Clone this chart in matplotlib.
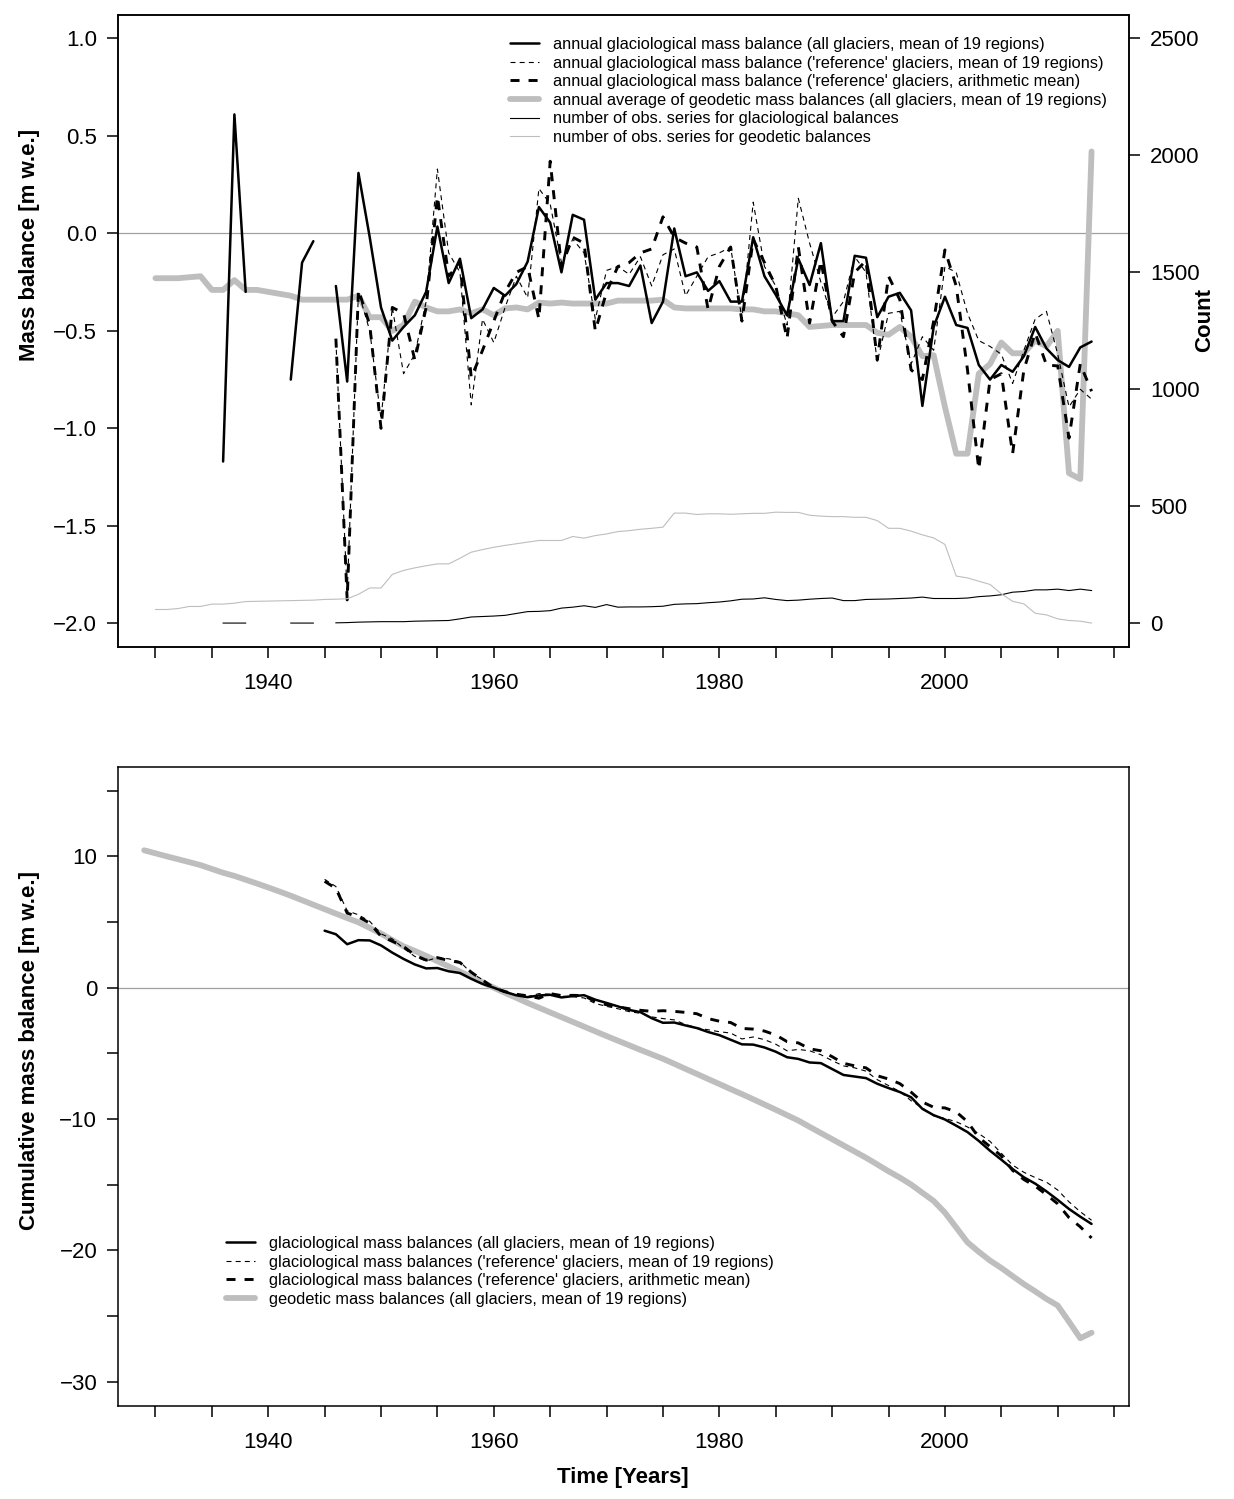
import numpy as np
import matplotlib
matplotlib.use('Agg')
import matplotlib.pyplot as plt
from matplotlib.lines import Line2D

plt.rcParams['font.family'] = ['Liberation Sans', 'DejaVu Sans']
plt.rcParams['lines.scale_dashes'] = False

# --- Data ---
NAN = np.nan

years_geod = list(range(1930, 2014))
geodetic_annual = [
    -0.23, -0.23, -0.23, -0.225, -0.22, -0.29, -0.29, -0.24, -0.29, -0.29,
    -0.30, -0.31, -0.32, -0.34, -0.34, -0.34, -0.34, -0.34, -0.32, -0.43,
    -0.43, -0.50, -0.47, -0.35, -0.38, -0.40, -0.40, -0.39, -0.41, -0.39,
    -0.42, -0.385, -0.38, -0.39, -0.355, -0.36, -0.355, -0.36, -0.36, -0.36,
    -0.36, -0.345, -0.345, -0.345, -0.345, -0.34, -0.38, -0.385, -0.385, -0.385,
    -0.385, -0.385, -0.39, -0.39, -0.40, -0.40, -0.41, -0.42, -0.48, -0.475,
    -0.47, -0.47, -0.47, -0.47, -0.51, -0.52, -0.48, -0.53, -0.63, -0.625,
    -0.89, -1.13, -1.13, -0.72, -0.67, -0.56, -0.615, -0.615, -0.55, -0.58,
    -0.50, -1.23, -1.26, 0.42]
geodetic_count = [
    59, 59, 63, 72, 72, 82, 82, 86, 93, 94,
    95, 96, 97, 98, 99, 102, 103, 105, 124, 151,
    151, 209, 226, 237, 246, 254, 254, 278, 304, 315,
    325, 333, 340, 347, 354, 354, 354, 371, 364, 375,
    382, 392, 396, 402, 406, 411, 471, 471, 465, 468,
    468, 466, 468, 470, 470, 475, 474, 474, 462, 458,
    456, 456, 453, 453, 439, 406, 406, 394, 378, 365,
    337, 202, 194, 180, 166, 126, 94, 83, 43, 36,
    19, 12, 9, 1]

years_glac = list(range(1936, 2014))
glac_all_annual = [
    -1.17, 0.61, -0.30, NAN, NAN, NAN, -0.75, -0.15, -0.04, NAN,
    -0.27, -0.76, 0.31, -0.02, -0.38, -0.55, -0.48, -0.42, -0.30, 0.035,
    -0.255, -0.13, -0.435, -0.39, -0.28, -0.32, -0.26, -0.145, 0.135, 0.055,
    -0.20, 0.095, 0.07, -0.34, -0.255, -0.255, -0.27, -0.165, -0.46, -0.35,
    0.025, -0.22, -0.20, -0.295, -0.245, -0.35, -0.35, -0.02, -0.22, -0.315,
    -0.42, -0.13, -0.265, -0.05, -0.45, -0.45, -0.115, -0.125, -0.43, -0.325,
    -0.305, -0.395, -0.885, -0.48, -0.325, -0.47, -0.485, -0.675, -0.75, -0.675,
    -0.71, -0.63, -0.48, -0.59, -0.65, -0.685, -0.585, -0.555]
glac_count = [
    1, 1, 1, NAN, NAN, NAN, 1, 1, 1, NAN,
    2, 3, 5, 6, 7, 7, 7, 9, 10, 11,
    12, 19, 27, 29, 31, 34, 42, 50, 51, 54,
    65, 69, 75, 68, 80, 69, 70, 70, 71, 73,
    81, 83, 84, 88, 91, 96, 103, 104, 109, 102,
    97, 99, 103, 106, 108, 97, 97, 102, 103, 104,
    106, 108, 112, 106, 106, 106, 108, 114, 117, 122,
    133, 136, 143, 143, 146, 140, 146, 140]

years_ref = list(range(1946, 2014))
ref_mean19_annual = [
    -0.55, -1.85, -0.30, -0.50, -0.95, -0.38, -0.72, -0.62, -0.35, 0.33,
    -0.10, -0.20, -0.88, -0.44, -0.56, -0.38, -0.22, -0.33, 0.23, 0.15,
    -0.15, -0.03, -0.10, -0.44, -0.19, -0.17, -0.21, -0.12, -0.27, -0.11,
    -0.08, -0.32, -0.22, -0.12, -0.10, -0.07, -0.44, 0.16, -0.17, -0.27,
    -0.47, 0.18, -0.05, -0.25, -0.43, -0.35, -0.12, -0.20, -0.66, -0.41,
    -0.40, -0.67, -0.53, -0.60, -0.17, -0.20, -0.41, -0.55, -0.58, -0.62,
    -0.77, -0.60, -0.44, -0.40, -0.62, -0.89, -0.80, -0.85]
ref_arith_annual = [
    -0.54, -1.88, -0.29, -0.47, -1.00, -0.38, -0.41, -0.65, -0.38, 0.19,
    -0.22, -0.15, -0.74, -0.60, -0.45, -0.30, -0.20, -0.17, -0.44, 0.37,
    -0.17, -0.02, -0.05, -0.50, -0.30, -0.17, -0.15, -0.10, -0.08, 0.085,
    -0.02, -0.05, -0.07, -0.39, -0.17, -0.07, -0.45, -0.03, -0.15, -0.27,
    -0.54, -0.07, -0.46, -0.14, -0.45, -0.53, -0.20, -0.14, -0.65, -0.22,
    -0.34, -0.70, -0.75, -0.45, -0.085, -0.27, -0.70, -1.21, -0.75, -0.72,
    -1.13, -0.70, -0.51, -0.675, -0.68, -1.05, -0.67, -0.81]

# cumulative series (bottom panel)
years_cum_geod = list(range(1929, 2014))
cum_geodetic = [
    10.46, 10.23, 10.0, 9.78, 9.56, 9.33, 9.04, 8.75, 8.51, 8.22,
    7.93, 7.63, 7.32, 7.0, 6.66, 6.32, 5.98, 5.64, 5.3, 4.98,
    4.55, 4.12, 3.62, 3.15, 2.8, 2.42, 2.02, 1.62, 1.23, 0.81,
    0.42, 0.0, -0.39, -0.77, -1.16, -1.52, -1.88, -2.24, -2.6, -2.96,
    -3.32, -3.68, -4.03, -4.38, -4.73, -5.07, -5.41, -5.79, -6.18, -6.56,
    -6.95, -7.33, -7.72, -8.1, -8.49, -8.89, -9.29, -9.7, -10.11, -10.59,
    -11.06, -11.53, -12.0, -12.47, -12.94, -13.45, -13.97, -14.45, -14.98, -15.61,
    -16.23, -17.12, -18.25, -19.38, -20.1, -20.77, -21.33, -21.95, -22.56, -23.11,
    -23.69, -24.19, -25.42, -26.68, -26.26]

years_cum_glac = list(range(1945, 2014))
cum_glac_all = [
    4.34, 4.07, 3.31, 3.62, 3.6, 3.22, 2.67, 2.19, 1.77, 1.47,
    1.5, 1.25, 1.12, 0.68, 0.29, 0.0, -0.32, -0.58, -0.72, -0.59,
    -0.54, -0.74, -0.64, -0.57, -0.91, -1.16, -1.42, -1.69, -1.86, -2.32,
    -2.67, -2.65, -2.87, -3.07, -3.37, -3.61, -3.96, -4.31, -4.33, -4.55,
    -4.87, -5.29, -5.42, -5.69, -5.74, -6.19, -6.64, -6.76, -6.88, -7.31,
    -7.64, -7.94, -8.34, -9.22, -9.7, -10.03, -10.5, -10.99, -11.66, -12.41,
    -13.09, -13.8, -14.43, -14.91, -15.5, -16.15, -16.84, -17.43, -17.98]
cum_ref_mean19 = [
    8.25, 7.7, 5.85, 5.55, 5.05, 4.1, 3.72, 3.0, 2.38, 2.03,
    2.3, 2.2, 1.98, 1.12, 0.62, 0.0, -0.38, -0.55, -0.68, -0.45,
    -0.5, -0.65, -0.68, -0.78, -1.2, -1.42, -1.6, -1.82, -1.95, -2.22,
    -2.35, -2.45, -2.8, -3.05, -3.2, -3.35, -3.45, -3.9, -3.75, -3.95,
    -4.3, -4.8, -4.7, -4.8, -5.1, -5.55, -5.95, -6.1, -6.35, -7.0,
    -7.45, -7.9, -8.6, -9.15, -9.75, -9.95, -10.2, -10.6, -11.1, -11.7,
    -12.6, -13.5, -14.05, -14.45, -14.8, -15.4, -16.3, -17.05, -17.7]
cum_ref_arith = [
    8.1, 7.56, 5.68, 5.39, 4.92, 3.92, 3.54, 3.13, 2.48, 2.1,
    2.29, 2.07, 1.92, 1.18, 0.58, 0.0, -0.3, -0.5, -0.62, -0.8,
    -0.45, -0.6, -0.58, -0.6, -1.05, -1.3, -1.45, -1.6, -1.72, -1.8,
    -1.75, -1.8, -1.88, -1.98, -2.35, -2.55, -2.65, -3.1, -3.15, -3.3,
    -3.6, -4.1, -4.2, -4.65, -4.8, -5.25, -5.75, -5.95, -6.1, -6.7,
    -6.95, -7.3, -7.95, -8.7, -9.1, -9.15, -9.45, -10.2, -11.4, -12.1,
    -12.8, -13.9, -14.6, -15.1, -15.75, -16.45, -17.5, -18.2, -19.05]

top_legend_labels = [
    'annual glaciological mass balance (all glaciers, mean of 19 regions)',
    "annual glaciological mass balance ('reference' glaciers, mean of 19 regions)",
    "annual glaciological mass balance ('reference' glaciers, arithmetic mean)",
    'annual average of geodetic mass balances (all glaciers, mean of 19 regions)',
    'number of obs. series for glaciological balances',
    'number of obs. series for geodetic balances',
]
bottom_legend_labels = [
    'glaciological mass balances (all glaciers, mean of 19 regions)',
    "glaciological mass balances ('reference' glaciers, mean of 19 regions)",
    "glaciological mass balances ('reference' glaciers, arithmetic mean)",
    'geodetic mass balances (all glaciers, mean of 19 regions)',
]

# --- Styles ---
W, H = 1234, 1499
GREY = '#BEBEBE'
SOLID = dict(color='black', lw=1.8, solid_capstyle='round', solid_joinstyle='round')
THIN_DASH = dict(color='black', lw=0.8, linestyle=(0, (3.6, 3.0)))
THICK_DASH = dict(color='black', lw=2.1, linestyle=(0, (6.5, 6.5)))
GEOD = dict(color=GREY, lw=4.2, solid_capstyle='round', solid_joinstyle='round')
CNT_GLAC = dict(color='black', lw=0.8)
CNT_GEOD = dict(color=GREY, lw=0.8)

XTICKS = list(range(1930, 2016, 5))
XLABELS = [str(t) if t in (1940, 1960, 1980, 2000) else '' for t in XTICKS]
XLIM = (1926.68, 2016.32)
LEG_FS = 11.8


def minus(s):
    return s.replace('-', '\u2212')


def style_axis(ax):
    for sp in ax.spines.values():
        sp.set_linewidth(1.1)
    ax.tick_params(direction='out', length=8, width=1.1, labelsize=16, pad=7)
    ax.tick_params(axis='x', pad=11)


def add_legend(ax, fig, handles, labels, x_px, top_px):
    ax.legend(handles, labels, loc='upper left',
              bbox_to_anchor=(x_px / W, 1 - top_px / H), bbox_transform=fig.transFigure,
              frameon=False, fontsize=LEG_FS, handlelength=1.75, handletextpad=0.85,
              labelspacing=0.22, borderpad=0, borderaxespad=0)


def draw_top(fig):
    ax = fig.add_axes([118 / W, 1 - 646.7 / H, 1011 / W, 631.7 / H])
    ax.axhline(0, color='#A0A0A0', lw=0.9, zorder=1)
    ax.plot(years_geod, geodetic_annual, **GEOD, zorder=2)
    ax.plot(years_ref, ref_mean19_annual, **THIN_DASH, zorder=3)
    ax.plot(years_ref, ref_arith_annual, **THICK_DASH, zorder=3)
    ax.plot(years_glac, glac_all_annual, **SOLID, zorder=4)
    ax.set_xlim(*XLIM)
    ax.set_ylim(-2.12, 1.12)
    yt = [-2.0, -1.5, -1.0, -0.5, 0.0, 0.5, 1.0]
    ax.set_yticks(yt, [minus(f'{v:.1f}') for v in yt])
    ax.set_xticks(XTICKS, XLABELS)

    ax2 = ax.twinx()
    ax2.plot(years_glac, glac_count, **CNT_GLAC)
    ax2.plot(years_geod, geodetic_count, **CNT_GEOD)
    ax2.set_ylim(-100, 2600)
    ax2.set_yticks(range(0, 2501, 500))
    style_axis(ax)
    style_axis(ax2)

    handles = [Line2D([], [], **SOLID), Line2D([], [], **THIN_DASH),
               Line2D([], [], **THICK_DASH), Line2D([], [], **GEOD),
               Line2D([], [], **CNT_GLAC), Line2D([], [], **CNT_GEOD)]
    add_legend(ax, fig, handles, top_legend_labels, 510, 37)

    fig.text(30 / W, 1 - 245 / H, 'Mass balance [m w.e.]', rotation=90,
             ha='center', va='center', fontsize=16, fontweight='bold')
    fig.text(1205 / W, 1 - 320 / H, 'Count', rotation=90,
             ha='center', va='center', fontsize=16, fontweight='bold')


def draw_bottom(fig):
    ax = fig.add_axes([118 / W, 1 - 1405.5 / H, 1011 / W, 638.5 / H])
    ax.axhline(0, color='#A0A0A0', lw=0.9, zorder=1)
    ax.plot(years_cum_geod, cum_geodetic, **GEOD, zorder=2)
    ax.plot(years_cum_glac, cum_ref_mean19, **THIN_DASH, zorder=3)
    ax.plot(years_cum_glac, cum_ref_arith, **THICK_DASH, zorder=3)
    ax.plot(years_cum_glac, cum_glac_all, **SOLID, zorder=4)
    ax.set_xlim(*XLIM)
    ax.set_ylim(-31.8, 16.8)
    yt = list(range(-30, 16, 5))
    ax.set_yticks(yt, [minus(str(v)) if v % 10 == 0 else '' for v in yt])
    ax.set_xticks(XTICKS, XLABELS)
    style_axis(ax)

    handles = [Line2D([], [], **SOLID), Line2D([], [], **THIN_DASH),
               Line2D([], [], **THICK_DASH), Line2D([], [], **GEOD)]
    add_legend(ax, fig, handles, bottom_legend_labels, 226, 1236)

    fig.text(30 / W, 1 - 1050 / H, 'Cumulative mass balance [m w.e.]', rotation=90,
             ha='center', va='center', fontsize=16, fontweight='bold')
    fig.text(623 / W, 1 - 1478 / H, 'Time [Years]',
             ha='center', va='center', fontsize=16, fontweight='bold')


def main():
    fig = plt.figure(figsize=(W / 100, H / 100), dpi=100)
    draw_top(fig)
    draw_bottom(fig)
    fig.savefig('out.png', dpi=100)


if __name__ == '__main__':
    main()
